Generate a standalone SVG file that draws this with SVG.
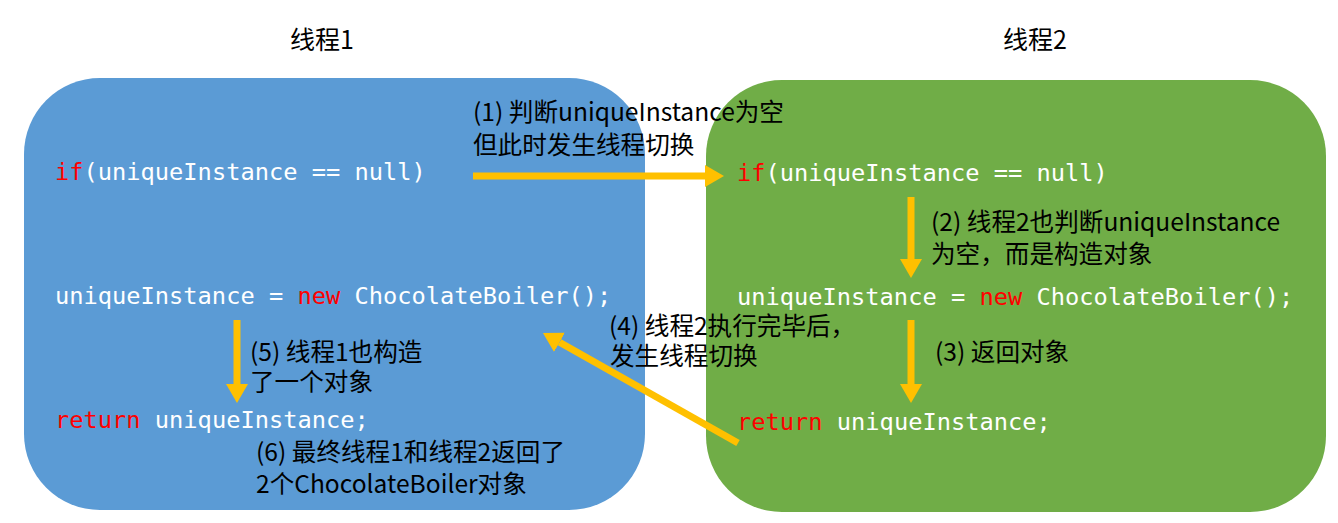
<svg xmlns="http://www.w3.org/2000/svg" width="1338" height="523" viewBox="0 0 1338 523">
<style>
.title{font-family:"Noto Sans CJK SC","Noto Sans",sans-serif;font-size:25px;fill:#000}
.note{font-family:"Noto Sans CJK SC","Noto Sans",sans-serif;font-size:24.6px;fill:#000}
.code{font-family:"DejaVu Sans Mono","Liberation Mono",monospace;font-size:23.7px;fill:#fff}
.kw{fill:#ff0000}
.arrow{stroke:#FFC000;stroke-width:7;fill:none;marker-end:url(#head)}
</style>
<defs>
<marker id="head" markerUnits="userSpaceOnUse" markerWidth="19" markerHeight="22" refX="0" refY="11" orient="auto" viewBox="0 0 19 22">
<path d="M0,0 L19,11 L0,22 z" fill="#FFC000"/>
</marker>
</defs>
<g id="thread1">
<rect x="24" y="78" width="621" height="432" rx="76" ry="76" fill="#5B9BD5"/>
<text class="title" x="322" y="49" text-anchor="middle">线程1</text>
<text class="code" x="55" y="180"><tspan class="kw">if</tspan>(uniqueInstance == null)</text>
<text class="code" x="55" y="304">uniqueInstance = <tspan class="kw">new</tspan> ChocolateBoiler();</text>
<text class="code" x="55" y="428"><tspan class="kw">return</tspan> uniqueInstance;</text>
</g>
<g id="thread2">
<rect x="706" y="80" width="620" height="432" rx="76" ry="76" fill="#70AD47"/>
<text class="title" x="1035" y="49" text-anchor="middle">线程2</text>
<text class="code" x="737" y="181"><tspan class="kw">if</tspan>(uniqueInstance == null)</text>
<text class="code" x="737" y="305">uniqueInstance = <tspan class="kw">new</tspan> ChocolateBoiler();</text>
<text class="code" x="737" y="430"><tspan class="kw">return</tspan> uniqueInstance;</text>
</g>
<g id="connectors">
<line class="arrow" x1="473" y1="176" x2="705" y2="176"/>
<line class="arrow" x1="911" y1="197" x2="911" y2="259"/>
<line class="arrow" x1="911" y1="320" x2="911" y2="384"/>
<line class="arrow" x1="237" y1="320" x2="237" y2="384"/>
<line class="arrow" x1="738" y1="443" x2="559.5" y2="342.3"/>
</g>
<g id="labels">
<text class="note"><tspan x="473" y="121">(1) 判断uniqueInstance为空</tspan><tspan x="473" y="154">但此时发生线程切换</tspan></text>
<text class="note"><tspan x="931" y="231">(2) 线程2也判断uniqueInstance</tspan><tspan x="931" y="263">为空，而是构造对象</tspan></text>
<text class="note" x="935" y="361">(3) 返回对象</text>
<text class="note"><tspan x="609" y="335">(4) 线程2执行完毕后，</tspan><tspan x="610" y="365">发生线程切换</tspan></text>
<text class="note"><tspan x="250" y="361">(5) 线程1也构造</tspan><tspan x="250" y="391">了一个对象</tspan></text>
<text class="note"><tspan x="256" y="461">(6) 最终线程1和线程2返回了</tspan><tspan x="256" y="493">2个ChocolateBoiler对象</tspan></text>
</g>
</svg>
